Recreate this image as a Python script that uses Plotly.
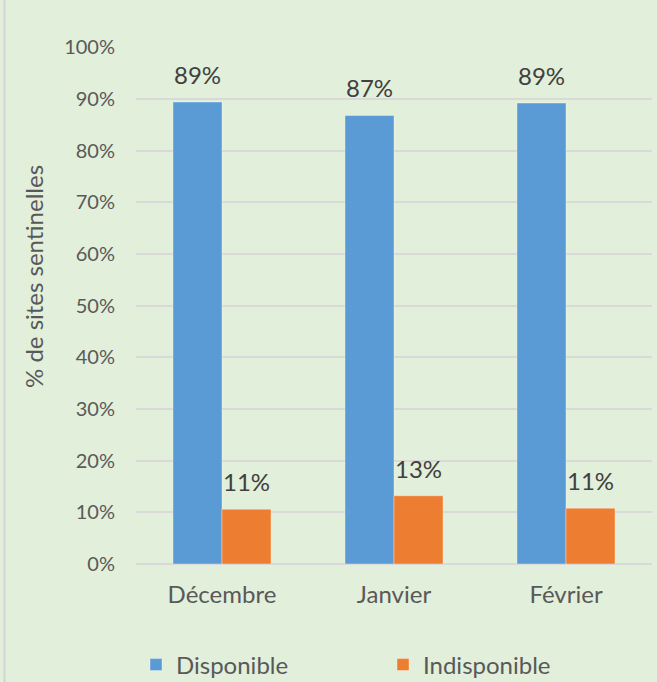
import plotly.graph_objects as go

months = ["Décembre", "Janvier", "Février"]
disponible = [0.894, 0.868, 0.892]
indisponible = [0.106, 0.132, 0.108]
series_names = ["Disponible", "Indisponible"]
colors = ["#5B9BD5", "#ED7D31"]
y_title = "% de sites sentinelles"

BG = "#E2EFDA"
FONT = "Lato"

fig = go.Figure()
for name, vals, col in zip(series_names, [disponible, indisponible], colors):
    fig.add_trace(go.Bar(
        name=name, x=months, y=vals,
        marker=dict(color=col, line=dict(color="rgba(255,255,255,0.35)", width=1)),
        hoverinfo="skip",
    ))

# data labels above the bars (offset left/right for the two groups)
bar_px = 49
for k, vals in enumerate([disponible, indisponible]):
    shift = (-0.5 if k == 0 else 0.5) * bar_px
    for m, v in zip(months, vals):
        fig.add_annotation(
            x=m, y=v, xref="x", yref="y", text=f"{round(v*100)}%",
            showarrow=False, xshift=shift, yshift=11, yanchor="bottom",
            font=dict(family=FONT, size=24, color="#404040"),
        )

fig.add_annotation(
    text=y_title, textangle=-90, xref="paper", yref="paper",
    x=(33 - 136) / 516, y=(564 - 277) / 517, showarrow=False,
    xanchor="center", yanchor="middle",
    font=dict(family=FONT, size=24, color="#595959"),
)

# left border of the chart frame
fig.add_shape(type="line", xref="paper", yref="paper",
              x0=(4.5 - 136) / 516, x1=(4.5 - 136) / 516,
              y0=(564 - 700) / 517, y1=(564 + 20) / 517,
              line=dict(color="#D4D4D4", width=2))

fig.update_layout(
    width=657, height=682,
    margin=dict(l=136, r=5, t=47, b=118),
    paper_bgcolor=BG, plot_bgcolor=BG,
    barmode="group", bargap=0.43, bargroupgap=0,
    font=dict(family=FONT, color="#595959"),
    showlegend=True,
    legend=dict(
        orientation="h", x=0, xanchor="left",
        yref="container", y=1 - 665 / 682, yanchor="middle",
        font=dict(family=FONT, size=24, color="#595959"),
        entrywidth=202, entrywidthmode="pixels",
        bgcolor="rgba(0,0,0,0)",
    ),
    xaxis=dict(
        showgrid=False, showline=False, ticks="",
        ticklabelstandoff=14,
        tickfont=dict(family=FONT, size=24, color="#595959"),
    ),
    yaxis=dict(
        range=[0, 1.0005], dtick=0.1, tick0=0, tickformat=".0%",
        showgrid=True, gridcolor="#D9D9D9", gridwidth=1.5,
        zeroline=True, zerolinecolor="#D9D9D9", zerolinewidth=1.5,
        showline=False, ticks="", ticklabelstandoff=20,
        tickfont=dict(family=FONT, size=20, color="#595959"),
    ),
)

fig.write_html("out.html", config={"displayModeBar": False},
               post_script="document.body.style.margin='0px';")
